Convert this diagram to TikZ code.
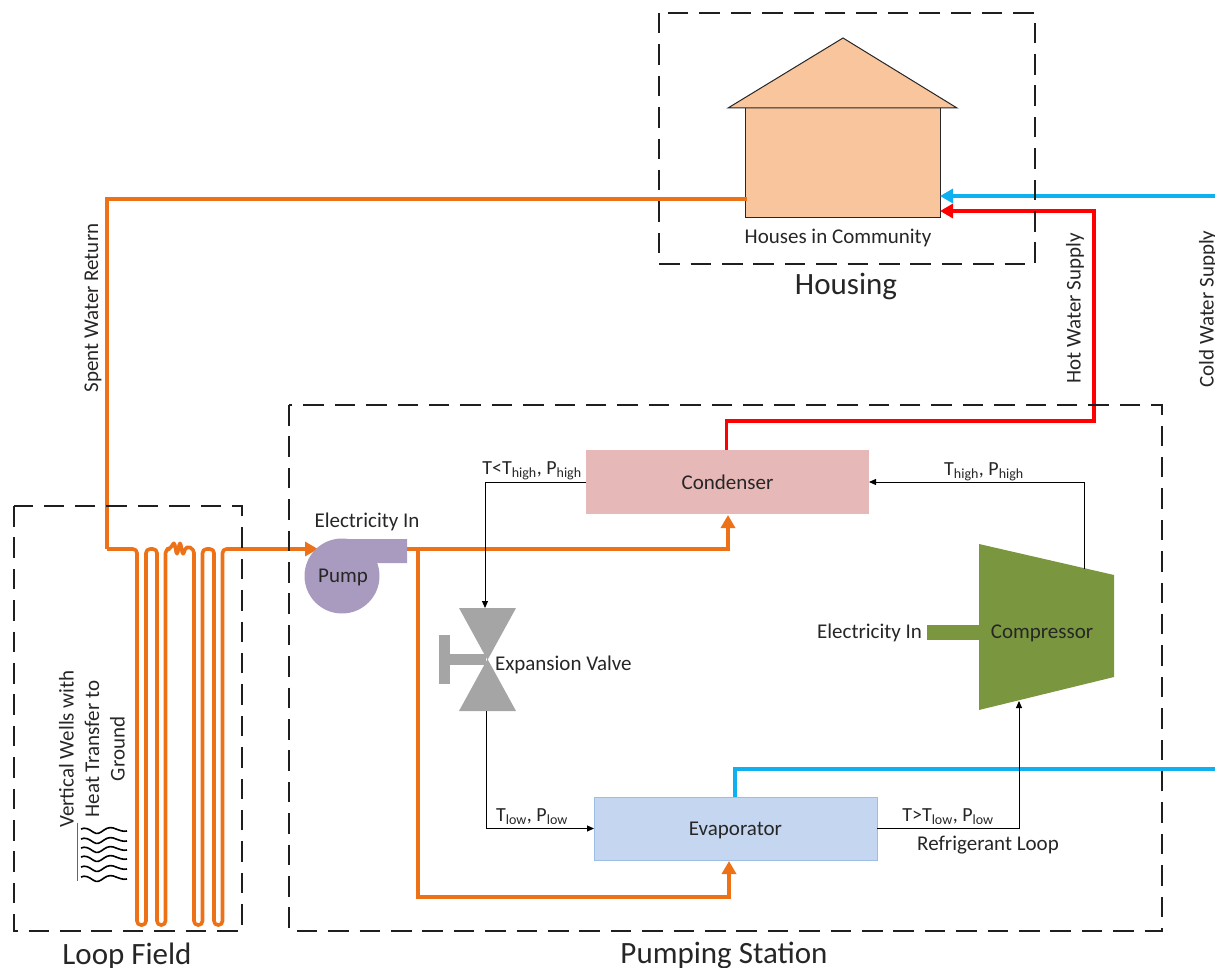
\documentclass[tikz,border=0pt]{standalone}
\usepackage{fontspec}
\setmainfont{Carlito}
\usetikzlibrary{arrows.meta}
\definecolor{pipeorange}{HTML}{ED7117}
\definecolor{coldblue}{HTML}{0FB0F0}
\definecolor{hotred}{HTML}{FF0000}
\definecolor{housefill}{HTML}{F8C59C}
\definecolor{condfill}{HTML}{E6B8B7}
\definecolor{evapfill}{HTML}{C5D7F0}
\definecolor{evapedge}{HTML}{9DBDE8}
\definecolor{compfill}{HTML}{7A963E}
\definecolor{pumpfill}{HTML}{A99BBF}
\definecolor{valvefill}{HTML}{A5A5A5}
\definecolor{txt}{HTML}{262626}
\tikzset{
  x=1pt,y=-1pt,
  every node/.style={text=txt,inner sep=0pt,outer sep=0pt},
  zone/.style={draw=black!88,line width=2.8pt,dash pattern=on 20.5pt off 10.9pt},
  zonelabel/.style={font=\fontsize{31}{33}\selectfont},
  lbl/.style={font=\fontsize{21}{25}\selectfont},
  statelbl/.style={font=\fontsize{20}{24}\selectfont},
  orangepipe/.style={draw=pipeorange,line width=3.6pt},
  coldpipe/.style={draw=coldblue,line width=3.6pt},
  hotpipe/.style={draw=hotred,line width=3.6pt},
  bigtip/.style={-{Triangle[length=13pt,width=14pt]}},
  refrig/.style={draw=black,line width=1pt,-{Triangle[length=7pt,width=6pt]}},
  wave/.style={draw=black,line width=1.6pt},
  block/.style={minimum width=#1,minimum height=64pt,lbl}
}
\begin{document}
\begin{tikzpicture}
\useasboundingbox (0,0) rectangle (1215,968);
% coordinates for free ends
\coordinate (cwin) at (1217,196);
\coordinate (cwout) at (1217,769);
\coordinate (hwA) at (726.5,421);
\coordinate (hwB) at (1094,421);
\coordinate (hwC) at (1094,211);
\coordinate (hwEnd) at (940,211);
\coordinate (cwEnd) at (940,196);
\coordinate (cwA) at (735,769);
\coordinate (spent) at (747,199);
\coordinate (spA) at (107,199);
\coordinate (spB) at (107,549);
\coordinate (pumpIn) at (318,549);
\coordinate (pumpOut) at (407,549);
\coordinate (condIn) at (728,515);
\coordinate (condA) at (728,549);
\coordinate (brA) at (418,549);
\coordinate (brB) at (418,897);
\coordinate (brC) at (729,897);
\coordinate (evapIn) at (729,861);
\coordinate (valveT) at (485,608);
\coordinate (valveB) at (486,711);
\coordinate (compIn) at (1019,701);
\coordinate (compOut) at (1084,569);

% house
\node[draw=black!85,fill=housefill,line width=1pt,minimum width=195pt,minimum height=110pt,anchor=north west] (house) at (745,108) {};
\path[draw=black!85,fill=housefill,line width=1pt] (728,108) -- (843,38) -- (957,108) -- cycle;
\node[lbl,anchor=center] (houselbl) at (838,238) {Houses in Community};

% blocks
\node[block=283pt,fill=condfill] (cond) at (727.5,482) {Condenser};
\node[block=283pt,minimum height=63pt,fill=evapfill,draw=evapedge,line width=0.8pt,text height=17pt,text depth=4pt] (evap) at (735.5,828.5) {Evaporator};

% pipes
\draw[orangepipe] (spent) -- (spA) -- (spB);
\draw[orangepipe,line join=round,rounded corners=4pt] (spB) -- (137,549) -- (137,925) -- (146,925) -- (146,549) -- (157,549) -- (157,925) -- (165.5,925) -- (165.5,549) -- (171,549) -- (174,541) -- (177,556) -- (180,541) -- (183,556) -- (186,546) -- (194,549) -- (194,925) -- (202.5,925) -- (202.5,549) -- (214,549) -- (214,925) -- (222.5,925) -- (222.5,549) -- (240,549);
\draw[orangepipe,bigtip] (240,549) -- (pumpIn);
\draw[orangepipe,bigtip] (pumpOut) -- (condA) -- (condIn);
\draw[orangepipe,bigtip] (brA) -- (brB) -- (brC) -- (evapIn);
\draw[hotpipe,bigtip] (cond.north -| hwA) -- (hwA) -- (hwB) -- (hwC) -- (hwEnd);
\draw[coldpipe,bigtip] (cwin) -- (cwEnd);
\draw[coldpipe] (cwout) -- (cwA) -- (cwA |- evap.north);

% pump
\path[fill=pumpfill] (342,576) circle (37.5);
\path[fill=pumpfill] (342,539) -- (407,539) -- (407,563) -- (376,563) -- (376,576) -- (342,576) -- cycle;
\node[lbl,anchor=center] (pump) at (343,577) {Pump};
\node[lbl,anchor=center] (pumplbl) at (367,522) {Electricity In};

% valve
\path[fill=valvefill] (459,608) -- (516,608) -- (487.5,660) -- cycle;
\path[fill=valvefill] (459,711) -- (516,711) -- (487.5,659) -- cycle;
\path[fill=valvefill] (438.5,635) rectangle (450,684);
\path[fill=valvefill] (450,653.5) rectangle (486,665);
\node[lbl,anchor=west] (valve) at (495,664.5) {Expansion Valve};

% compressor
\path[fill=compfill] (979,544) -- (1114,575) -- (1114,677) -- (979,710) -- cycle;
\path[fill=compfill] (927,624.5) rectangle (980,640);
\node[lbl,anchor=center] (comp) at (1042,633) {Compressor};
\node[lbl,anchor=east] (complbl) at (922,633) {Electricity In};

% refrigerant loop
\draw[refrig] (cond.west) -- (valveT |- cond.west) -- (valveT);
\draw[refrig] (valveB) -- (valveB |- evap.west) -- (evap.west);
\draw[refrig] (evap.east) -- (compIn |- evap.east) -- (compIn);
\draw[refrig] (compOut) -- (compOut |- cond.east) -- (cond.east);

% state labels
\node[statelbl,anchor=center] (s1) at (532,471) {T<T\textsubscript{high}, P\textsubscript{high}};
\node[statelbl,anchor=center] (s2) at (984,472) {T\textsubscript{high}, P\textsubscript{high}};
\node[statelbl,anchor=center] (s3) at (532,817) {T\textsubscript{low}, P\textsubscript{low}};
\node[statelbl,anchor=center] (s4) at (948,817) {T>T\textsubscript{low}, P\textsubscript{low}};
\node[lbl,anchor=center] (refl) at (988,845) {Refrigerant Loop};

% rotated labels
\node[lbl,rotate=90] (spentlbl) at (93,308) {Spent Water Return};
\node[lbl,rotate=90] (hotlbl) at (1075,308.5) {Hot Water Supply};
\node[lbl,rotate=90] (coldlbl) at (1208,309) {Cold Water Supply};
\node[lbl,rotate=90,align=center,font=\fontsize{21}{25.5}\selectfont] (wells) at (92,749) {Vertical Wells with\\Heat Transfer to\\Ground};

% ground heat waves
\draw[draw=black!60,line width=0.7pt] (77,823) -- (77,881);
\foreach \yy in {830,840,849,858,868,878}{
  \draw[wave] (81,\yy-1) .. controls (85,\yy-3) and (89,\yy-1) .. (93,\yy+2) .. controls (97,\yy+5) and (100,\yy+3) .. (104,\yy) .. controls (108,\yy-3) and (112,\yy-3) .. (116,\yy-1) .. controls (119,\yy) and (123,\yy+2) .. (127,\yy+1);
}

% zones
\draw[zone] (659,13) rectangle (1035,264);
\draw[zone] (289,405) rectangle (1162,931);
\draw[zone] (14,506) rectangle (242,931);
\node[zonelabel,anchor=center] (housing) at (846,287) {Housing};
\node[zonelabel,anchor=center] (station) at (724,955) {Pumping Station};
\node[zonelabel,anchor=center] (field) at (127,956) {Loop Field};
\end{tikzpicture}
\end{document}
